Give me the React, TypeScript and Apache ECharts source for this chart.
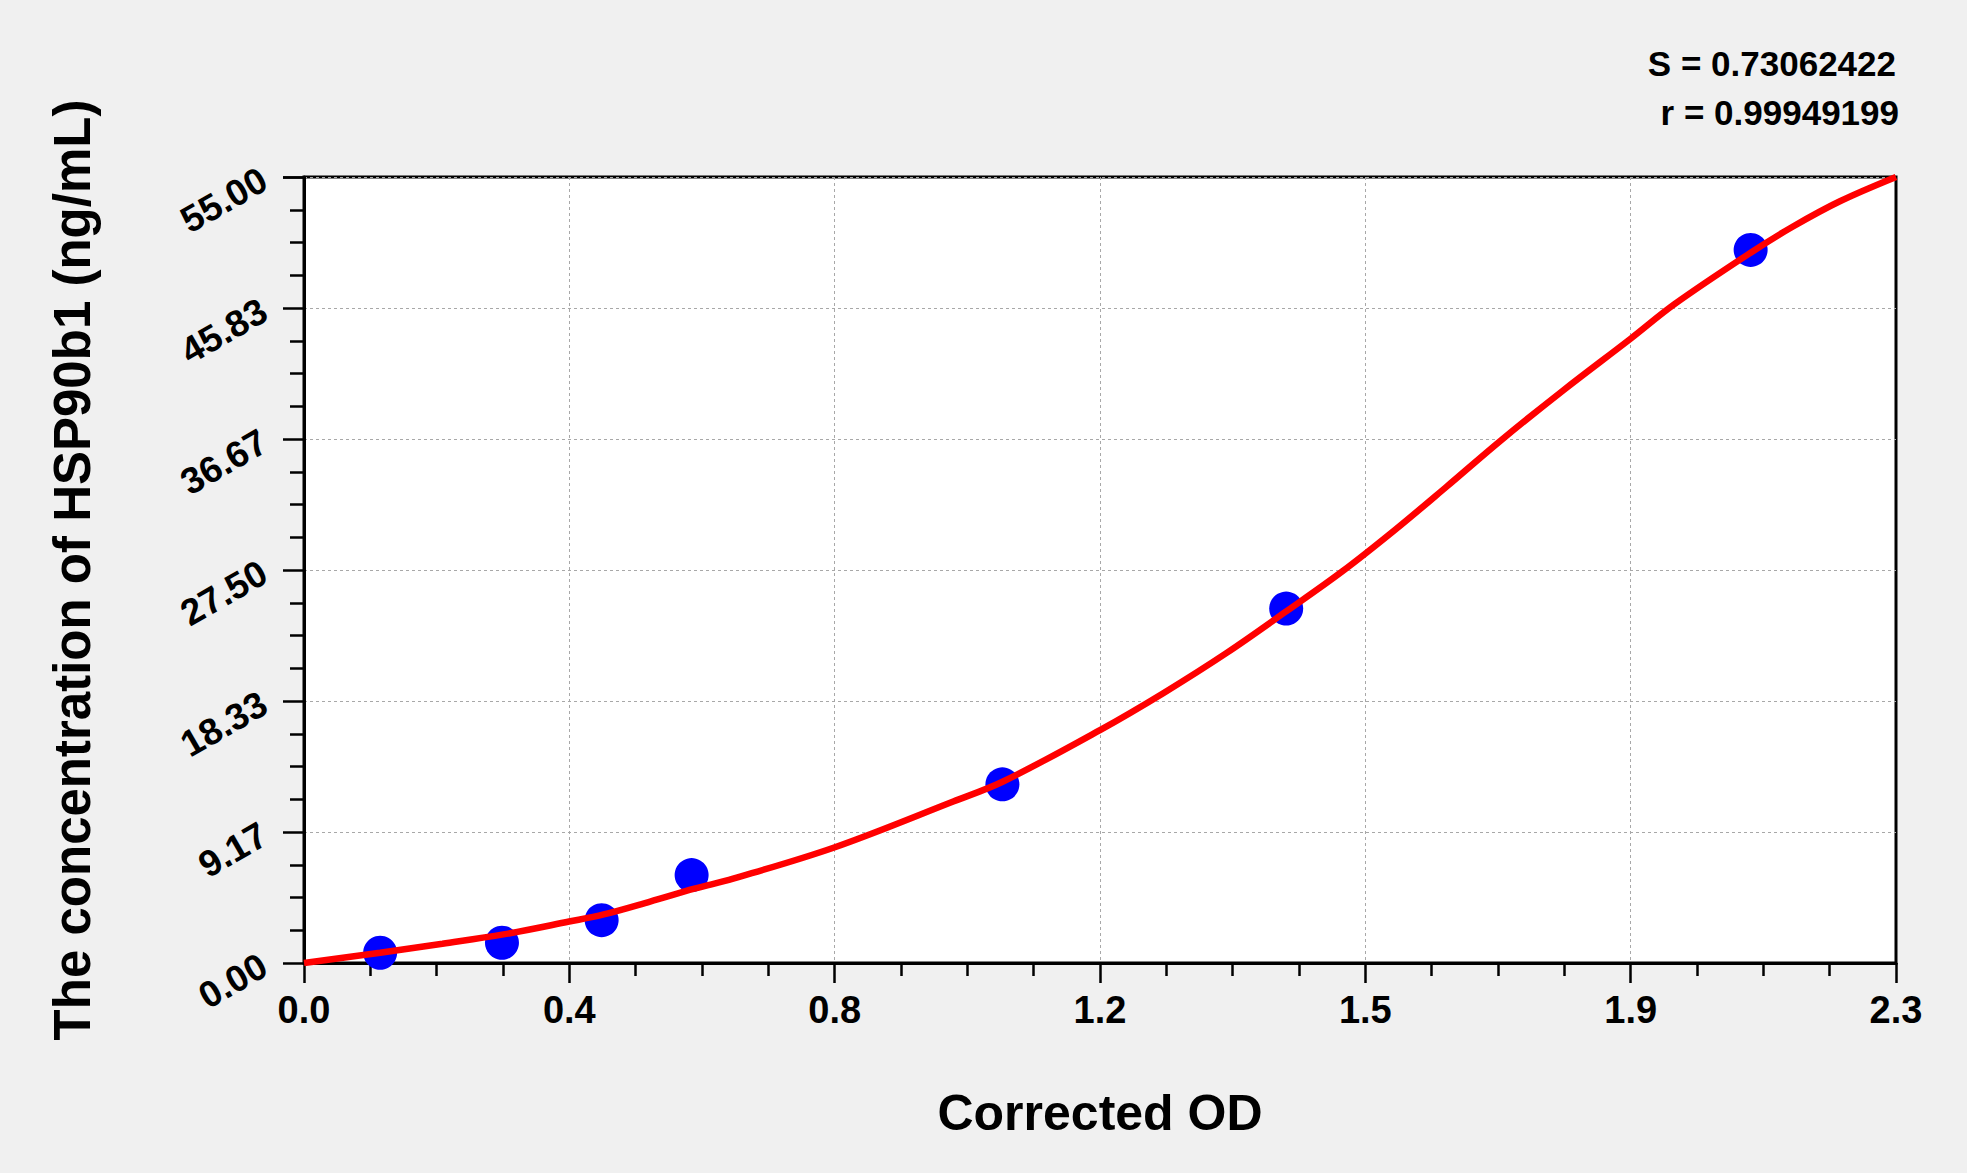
import React, { useEffect, useRef } from "react";
import * as echarts from "echarts";

// axis ticks
const xTickLabels = ["0.0", "0.4", "0.8", "1.2", "1.5", "1.9", "2.3"];
const yTickLabels = ["0.00", "9.17", "18.33", "27.50", "36.67", "45.83", "55.00"];
const xMax = 2.3;
const yMax = 55;
const xStep = xMax / 6;
const yStep = yMax / 6;

// standards (OD, ng/mL)
const stdOd = [0.11, 0.286, 0.43, 0.56, 1.009, 1.419, 2.09];
const stdConc = [0.72, 1.42, 3.0, 6.15, 12.5, 24.8, 49.9];

// fitted curve
const curveOd = [0, 0.11, 0.2, 0.288, 0.383, 0.433, 0.5, 0.564, 0.62, 0.767, 0.938, 1.01, 1.15, 1.242, 1.333, 1.419, 1.5, 1.576, 1.65, 1.73, 1.82, 1.917, 1.98, 2.09, 2.15, 2.219, 2.3];
const curveConc = [0, 0.72, 1.35, 2.0, 2.9, 3.4, 4.3, 5.2, 5.9, 8.1, 11.3, 12.7, 16.3, 18.9, 21.7, 24.6, 27.4, 30.3, 33.3, 36.6, 40.1, 43.7, 46.1, 49.7, 51.5, 53.3, 55.0];

const xTitle = "Corrected OD";
const yTitle = "The concentration of HSP90b1 (ng/mL)";
const fitS = "S = 0.73062422";
const fitR = "r = 0.99949199";

const FONT = '"Liberation Sans", Arial, sans-serif';

const App = () => {
  const chartRef = useRef(null);

  useEffect(() => {
    const chart = echarts.init(chartRef.current, null, { renderer: "svg" });

    chart.setOption({
      animation: false,
      backgroundColor: "#f0f0f0",
      grid: {
        left: 304,
        top: 177,
        right: 71,
        bottom: 210,
        show: true,
        backgroundColor: "#ffffff",
        borderColor: "#000000",
        borderWidth: 3,
      },
      xAxis: {
        type: "value",
        min: 0,
        max: xMax,
        interval: xStep,
        axisLine: { show: true, onZero: false, lineStyle: { color: "#000", width: 3 } },
        axisTick: { show: true, length: 20, lineStyle: { color: "#000", width: 2.5 } },
        minorTick: { show: true, splitNumber: 4, length: 13, lineStyle: { color: "#000", width: 2.5 } },
        axisLabel: {
          margin: 28,
          color: "#000",
          fontSize: 38,
          fontWeight: "bold",
          fontFamily: FONT,
          formatter: (v: number) => xTickLabels[Math.round(v / xStep)] ?? "",
        },
        splitLine: {
          show: true,
          showMinLine: false,
          showMaxLine: false,
          lineStyle: { color: "#a8a8a8", width: 1, type: [3, 3] },
        },
      },
      yAxis: {
        type: "value",
        min: 0,
        max: yMax,
        interval: yStep,
        axisLine: { show: true, onZero: false, lineStyle: { color: "#000", width: 3 } },
        axisTick: { show: true, length: 21, lineStyle: { color: "#000", width: 2.5 } },
        minorTick: { show: true, splitNumber: 4, length: 14, lineStyle: { color: "#000", width: 2.5 } },
        axisLabel: {
          margin: 40,
          rotate: 30,
          color: "#000",
          fontSize: 37,
          fontWeight: "bold",
          fontFamily: FONT,
          formatter: (v: number) => yTickLabels[Math.round(v / yStep)] ?? "",
        },
        splitLine: {
          show: true,
          showMinLine: false,
          showMaxLine: false,
          lineStyle: { color: "#a8a8a8", width: 1, type: [3, 3] },
        },
      },
      series: [
        {
          name: "standards",
          type: "scatter",
          data: stdOd.map((x, i) => [x, stdConc[i]]),
          symbol: "circle",
          symbolSize: 34,
          itemStyle: { color: "#0000ff", opacity: 1 },
          z: 2,
        },
        {
          name: "fit",
          type: "line",
          data: curveOd.map((x, i) => [x, curveConc[i]]),
          symbol: "none",
          smooth: 0.35,
          lineStyle: { color: "#ff0000", width: 6.5 },
          z: 3,
        },
      ],
      graphic: [
        {
          type: "text",
          x: 72,
          y: 570,
          rotation: Math.PI / 2,
          style: {
            text: yTitle,
            fill: "#000",
            font: `bold 51px ${FONT}`,
            textAlign: "center",
            textVerticalAlign: "middle",
          },
        },
        {
          type: "text",
          x: 1100,
          y: 1113,
          style: {
            text: xTitle,
            fill: "#000",
            font: `bold 50px ${FONT}`,
            textAlign: "center",
            textVerticalAlign: "middle",
          },
        },
        {
          type: "text",
          x: 1896,
          y: 63,
          style: {
            text: fitS,
            fill: "#000",
            font: `bold 35px ${FONT}`,
            textAlign: "right",
            textVerticalAlign: "middle",
          },
        },
        {
          type: "text",
          x: 1899,
          y: 112,
          style: {
            text: fitR,
            fill: "#000",
            font: `bold 35px ${FONT}`,
            textAlign: "right",
            textVerticalAlign: "middle",
          },
        },
      ],
    });

    return () => {
      chart.dispose();
    };
  }, []);

  return (
    <div
      ref={chartRef}
      style={{ position: "absolute", left: 0, top: 0, width: "1967px", height: "1173px" }}
    ></div>
  );
};

export default App;
